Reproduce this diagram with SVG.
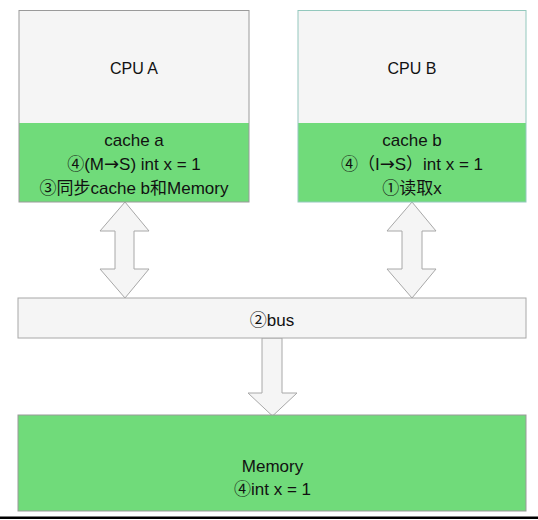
<svg xmlns="http://www.w3.org/2000/svg" width="538" height="520" viewBox="0 0 538 520">
<style>
text{font-family:"Liberation Sans","Noto Sans CJK SC",sans-serif;font-size:17px;fill:#111;text-anchor:middle}
.cpu{font-size:16px}
.ar{font-family:"DejaVu Sans",sans-serif;font-size:18px}
.gray{fill:#f5f5f5}
.green{fill:#70db7a}
.edge{fill:none;stroke:#9a9a9a;stroke-width:1}
.arrow{fill:#f5f5f5;stroke:#a8a8a8;stroke-width:1;stroke-linejoin:miter}
</style>
<rect x="0" y="0" width="538" height="520" fill="#ffffff"/>
<g id="connectors">
<polygon class="arrow" points="125,202 149,231 134,231 134,269 149,269 125,298 100,269 115,269 115,231 100,231"/>
<polygon class="arrow" points="412,202 436,231 422,231 422,269 436,269 412,298 387,269 402,269 402,231 387,231"/>
<polygon class="arrow" points="262,338 282,338 282,393 297,393 272.5,416 248,393 262,393"/>
</g>
<g id="cpuA">
<rect class="gray" x="19" y="10.5" width="230" height="112.5"/>
<rect class="green" x="19" y="123" width="230" height="79"/>
<rect class="edge" x="19" y="10.5" width="230" height="191.5"/>
<text class="cpu" x="134" y="73.5">CPU A</text>
<text x="134" y="146">cache a</text>
<text x="134" y="169.5">④(M<tspan class="ar">→</tspan>S) int x = 1</text>
<text x="134" y="193.5">③同步cache b和Memory</text>
</g>
<g id="cpuB">
<rect class="gray" x="298" y="10.5" width="228" height="112.5"/>
<rect class="green" x="298" y="123" width="228" height="79"/>
<rect x="298" y="10.5" width="228" height="191.5" fill="none" stroke="#93c8bd" stroke-width="1"/>
<text class="cpu" x="412" y="73.5">CPU B</text>
<text x="412" y="146">cache b</text>
<text x="412" y="169.5">④（I<tspan class="ar">→</tspan>S）int x = 1</text>
<text x="412" y="193.5">①读取x</text>
</g>
<g id="bus">
<rect class="gray" x="18" y="298" width="508" height="40" stroke="#a8a8a8" stroke-width="1"/>
<text x="272" y="325.5">②bus</text>
</g>
<g id="memory">
<rect class="green" x="18" y="415" width="508" height="96" stroke="#9a9a9a" stroke-width="1"/>
<text x="272.5" y="471.5">Memory</text>
<text x="272.5" y="494.5">④int x = 1</text>
</g>
<rect x="0" y="516.5" width="538" height="2.5" fill="#000"/>
</svg>
